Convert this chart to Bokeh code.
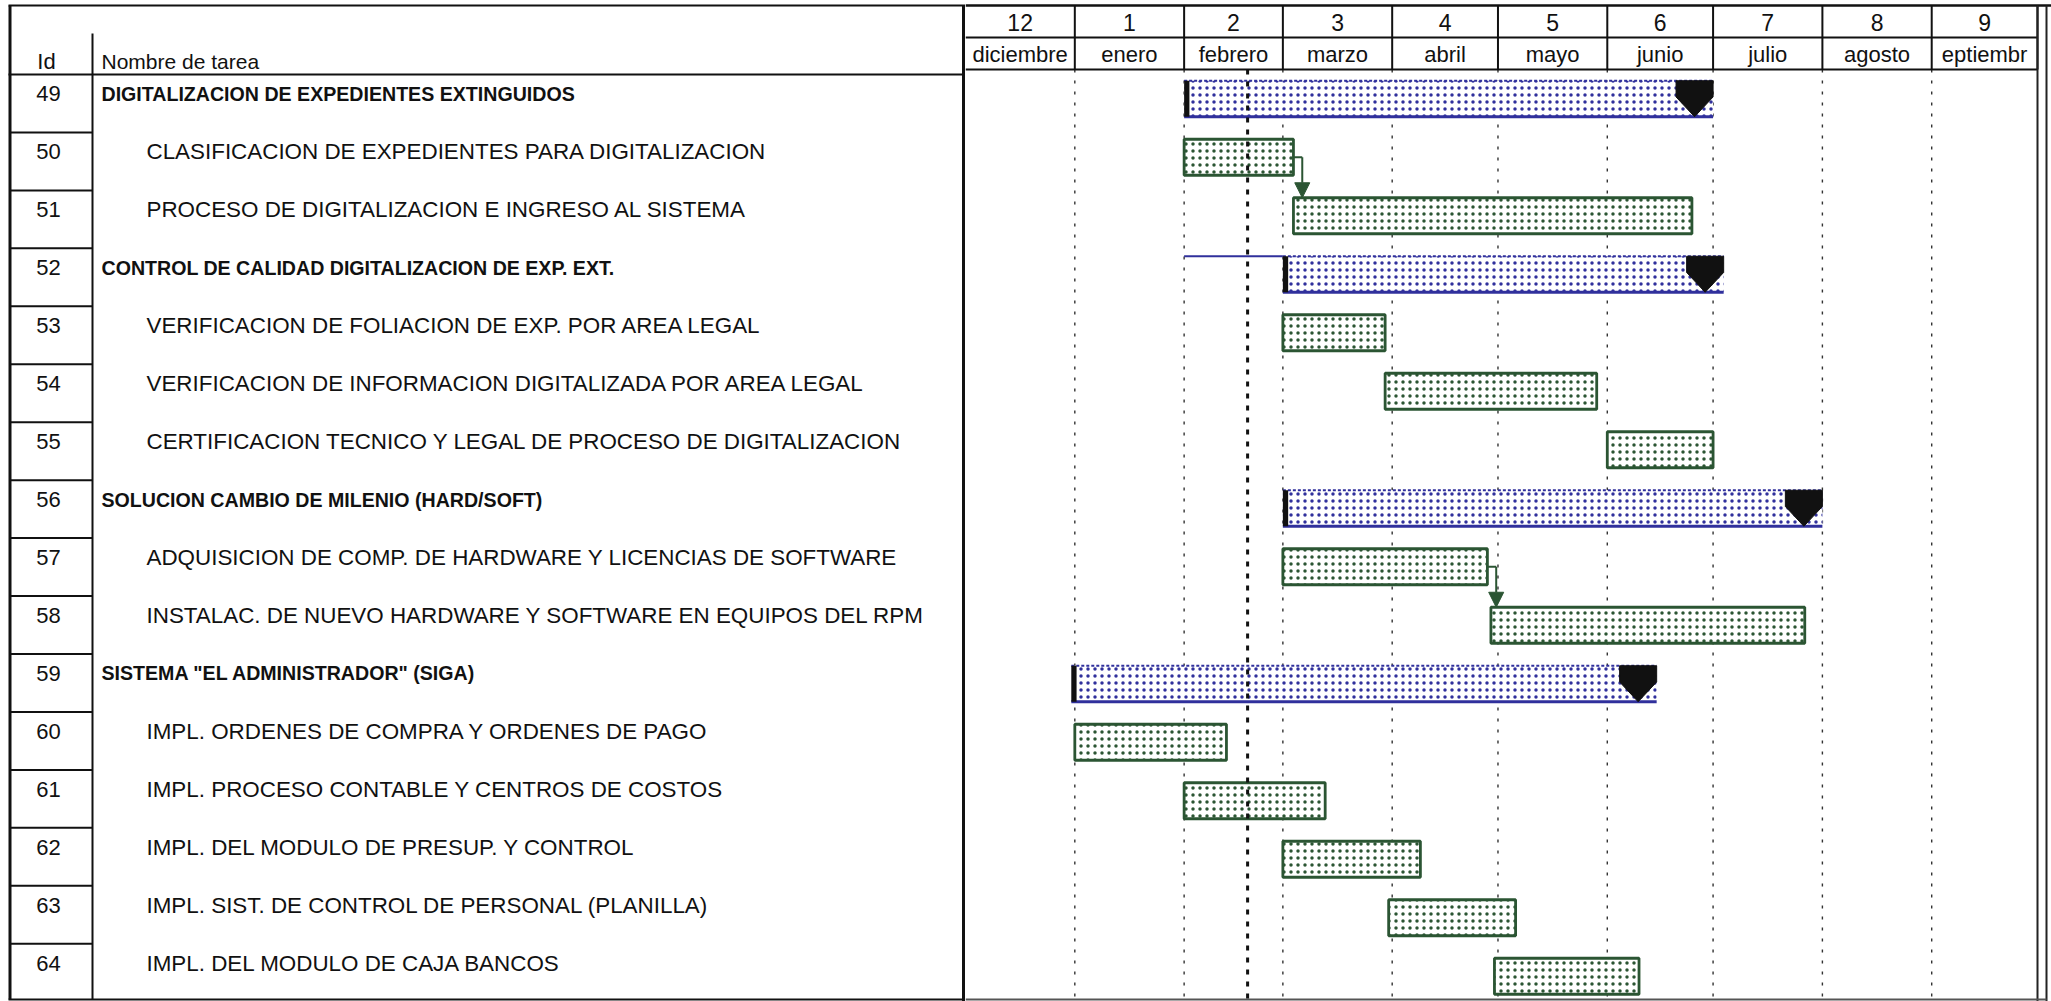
import pandas as pd
from bokeh.plotting import figure
from bokeh.layouts import row
from bokeh.models import Range1d, Arrow, NormalHead
from bokeh.core.properties import value
from bokeh.embed import file_html
from bokeh.resources import INLINE

# ---------------- data ----------------
ids = [49, 50, 51, 52, 53, 54, 55, 56, 57, 58, 59, 60, 61, 62, 63, 64]
names = [
    "DIGITALIZACION DE EXPEDIENTES EXTINGUIDOS",
    "CLASIFICACION DE EXPEDIENTES PARA DIGITALIZACION",
    "PROCESO DE DIGITALIZACION E INGRESO AL SISTEMA",
    "CONTROL DE CALIDAD DIGITALIZACION DE EXP. EXT.",
    "VERIFICACION DE FOLIACION DE EXP. POR AREA LEGAL",
    "VERIFICACION DE INFORMACION DIGITALIZADA POR AREA LEGAL",
    "CERTIFICACION TECNICO Y LEGAL DE PROCESO DE DIGITALIZACION",
    "SOLUCION CAMBIO DE MILENIO (HARD/SOFT)",
    "ADQUISICION DE COMP. DE HARDWARE Y LICENCIAS DE SOFTWARE",
    "INSTALAC. DE NUEVO HARDWARE Y SOFTWARE EN EQUIPOS DEL RPM",
    'SISTEMA "EL ADMINISTRADOR" (SIGA)',
    "IMPL. ORDENES DE COMPRA Y ORDENES DE PAGO",
    "IMPL. PROCESO CONTABLE Y CENTROS DE COSTOS",
    "IMPL. DEL MODULO DE PRESUP. Y CONTROL",
    "IMPL. SIST. DE CONTROL DE PERSONAL (PLANILLA)",
    "IMPL. DEL MODULO DE CAJA BANCOS",
]
is_summary = [True, False, False, True, False, False, False, True,
              False, False, True, False, False, False, False, False]
starts = ["1999-02-01", "1999-02-01", "1999-03-04", "1999-03-01", "1999-03-01",
          "1999-03-30", "1999-06-01", "1999-03-01", "1999-03-01", "1999-04-29",
          "1998-12-31", "1999-01-01", "1999-02-01", "1999-03-01", "1999-03-31",
          "1999-04-30"]
finishes = ["1999-07-01", "1999-03-04", "1999-06-25", "1999-07-04", "1999-03-30",
            "1999-05-29", "1999-07-01", "1999-08-01", "1999-04-28", "1999-07-27",
            "1999-06-15", "1999-02-13", "1999-03-13", "1999-04-09", "1999-05-06",
            "1999-06-10"]
links = [(50, 51), (57, 58)]
slack_ids = [52]
slack_starts = ["1999-02-01"]
status_date = "1999-02-19"
month_numbers = ["12", "1", "2", "3", "4", "5", "6", "7", "8", "9"]
month_names = ["diciembre", "enero", "febrero", "marzo", "abril", "mayo",
               "junio", "julio", "agosto", "eptiembr"]
month_starts = ["1998-12-01", "1999-01-01", "1999-02-01", "1999-03-01",
                "1999-04-01", "1999-05-01", "1999-06-01", "1999-07-01",
                "1999-08-01", "1999-09-01"]
timeline_end = "1999-10-01"

# ---------------- helpers ----------------
origin = pd.Timestamp(month_starts[0])


def day(s):
    return (pd.Timestamp(s) - origin).days


start_d = [day(s) for s in starts]
fin_d = [day(s) for s in finishes]
rows_i = list(range(len(ids)))
tl_days = day(timeline_end)
mb = [day(m) for m in month_starts] + [tl_days]

FONT = "Liberation Sans"
BLACK = "#111111"
GREEN = "#2b5533"
BLUE = "#30309c"
H = 1001
TOP_PAGE, BOT_PAGE = 0, 1001

# ---------------- gantt figure ----------------
G_ROW0, G_PITCH = 98.25, 58.5


def gy(page):
    return (page - G_ROW0) / G_PITCH


G_LEFT, G_RIGHT = 965, 2051
px_per_day = (2037 - G_LEFT) / tl_days
xmax = (G_RIGHT - G_LEFT) / px_per_day
x_dbl = (2046 - G_LEFT) / px_per_day

g = figure(width=G_RIGHT - G_LEFT, height=H,
           x_range=Range1d(0, xmax), y_range=Range1d(gy(BOT_PAGE), gy(TOP_PAGE)),
           output_backend="svg", toolbar_location=None, min_border=0,
           x_axis_location=None, y_axis_location=None)
g.grid.visible = False
g.outline_line_color = None
g.background_fill_color = "white"
g.border_fill_color = "white"

hdr_top, hdr_mid, hdr_bot, bottom = gy(5), gy(37), gy(69), gy(999)

# month gridlines (dashed) below header
grid_x = mb[1:-1]
g.segment(x0=grid_x, y0=[hdr_bot] * len(grid_x), x1=grid_x, y1=[bottom] * len(grid_x),
          line_color="#333333", line_width=1.4, line_dash="3 8")

# header
g.segment(x0=[0, 0], y0=[hdr_mid, hdr_bot], x1=[tl_days, tl_days],
          y1=[hdr_mid, hdr_bot], line_color=BLACK, line_width=2)
g.segment(x0=[0], y0=[hdr_top], x1=[xmax], y1=[hdr_top],
          line_color=BLACK, line_width=2.5)
g.segment(x0=mb[1:], y0=[hdr_top] * (len(mb) - 1), x1=mb[1:], y1=[hdr_bot] * (len(mb) - 1),
          line_color=BLACK, line_width=2)
mid_x = [(mb[k] + mb[k + 1]) / 2 for k in range(len(month_names))]
g.text(x=mid_x, y=[gy(22)] * len(mid_x), text=month_numbers, text_font=value(FONT),
       text_font_size="23px", text_align="center", text_baseline="middle", text_color=BLACK)
g.text(x=mid_x, y=[gy(54)] * len(mid_x), text=month_names, text_font=value(FONT),
       text_font_size="22px", text_align="center", text_baseline="middle", text_color=BLACK)

# right double border and bottom line
g.segment(x0=[tl_days, x_dbl], y0=[hdr_top, hdr_top], x1=[tl_days, x_dbl],
          y1=[gy(BOT_PAGE), gy(BOT_PAGE)], line_color="#222222", line_width=2)
g.segment(x0=[0], y0=[bottom], x1=[x_dbl], y1=[bottom], line_color="#555555", line_width=2)

HALF = 18 / G_PITCH

# task bars
t_idx = [i for i in rows_i if not is_summary[i]]
g.quad(left=[start_d[i] for i in t_idx], right=[fin_d[i] for i in t_idx],
       top=[i - HALF for i in t_idx], bottom=[i + HALF for i in t_idx],
       fill_color="white", hatch_pattern="dot", hatch_color=GREEN, hatch_scale=7,
       hatch_weight=1.7, line_color=GREEN, line_width=2.8)

# summary bars
s_idx = [i for i in rows_i if is_summary[i]]
g.quad(left=[start_d[i] for i in s_idx], right=[fin_d[i] for i in s_idx],
       top=[i - HALF for i in s_idx], bottom=[i + HALF for i in s_idx],
       fill_color="white", hatch_pattern="dot", hatch_color=BLUE, hatch_scale=7,
       hatch_weight=1.7, line_color=None)
g.segment(x0=[start_d[i] for i in s_idx], y0=[i + HALF for i in s_idx],
          x1=[fin_d[i] for i in s_idx], y1=[i + HALF for i in s_idx],
          line_color=BLUE, line_width=2.8)
g.segment(x0=[start_d[i] for i in s_idx], y0=[i - HALF for i in s_idx],
          x1=[fin_d[i] for i in s_idx], y1=[i - HALF for i in s_idx],
          line_color=BLUE, line_width=2.2, line_dash="3 2")
# slack line
sl_i = [ids.index(k) for k in slack_ids]
g.segment(x0=[day(s) for s in slack_starts], y0=[i - HALF for i in sl_i],
          x1=[start_d[i] for i in sl_i], y1=[i - HALF for i in sl_i],
          line_color=BLUE, line_width=2)
# summary start bars
SB = 1.5
g.quad(left=[start_d[i] for i in s_idx], right=[start_d[i] + SB for i in s_idx],
       top=[i - HALF for i in s_idx], bottom=[i + HALF for i in s_idx],
       fill_color=BLACK, line_color=None)
# summary end markers
MW = 10.5
xs, ys = [], []
for i in s_idx:
    e = fin_d[i]
    tp, bt = i - HALF, i + HALF
    knee = tp + 0.45 * (bt - tp)
    xs.append([e - MW, e, e, e - MW / 2, e - MW])
    ys.append([tp, tp, knee, bt, knee])
g.patches(xs=xs, ys=ys, fill_color=BLACK, line_color=BLACK, line_width=1)

# dependency links
for a, b in links:
    ia, ib = ids.index(a), ids.index(b)
    xa = fin_d[ia] + 2.5
    g.segment(x0=[fin_d[ia]], y0=[ia], x1=[xa], y1=[ia], line_color=GREEN, line_width=2)
    g.add_layout(Arrow(end=NormalHead(size=15, fill_color=GREEN, line_color=GREEN),
                       x_start=xa, y_start=ia, x_end=xa, y_end=ib - HALF,
                       line_color=GREEN, line_width=2))

# status date line
sd = day(status_date)
g.segment(x0=[sd], y0=[hdr_bot], x1=[sd], y1=[bottom], line_color=BLACK,
          line_width=3, line_dash="5 7")

# ---------------- table figure ----------------
T_ROW0, T_PITCH = 74, 57.95


def ty(page):
    return (page - T_ROW0) / T_PITCH


t = figure(width=G_LEFT, height=H, x_range=Range1d(0, G_LEFT),
           y_range=Range1d(ty(BOT_PAGE), ty(TOP_PAGE)),
           output_backend="svg", toolbar_location=None, min_border=0,
           x_axis_location=None, y_axis_location=None)
t.grid.visible = False
t.outline_line_color = None
t.background_fill_color = "white"
t.border_fill_color = "white"

n = len(ids)
t_top, t_bot = ty(5), ty(999)
# structure lines
t.segment(x0=[8, 8, 8], y0=[t_top, 0, t_bot], x1=[G_LEFT, G_LEFT, G_LEFT],
          y1=[t_top, 0, t_bot], line_color=BLACK, line_width=2.2)
t.segment(x0=[9.5, G_LEFT - 2], y0=[t_top, t_top], x1=[9.5, G_LEFT - 2],
          y1=[t_bot, ty(BOT_PAGE)], line_color=BLACK, line_width=3)
t.segment(x0=[92], y0=[ty(33)], x1=[92], y1=[t_bot], line_color=BLACK, line_width=2)
t.segment(x0=[9.5] * (n - 1), y0=list(range(1, n)), x1=[92] * (n - 1),
          y1=list(range(1, n)), line_color=BLACK, line_width=2)

t.text(x=[46], y=[ty(61)], text=["Id"], text_font=value(FONT), text_font_size="22px",
       text_align="center", text_baseline="middle", text_color=BLACK)
t.text(x=[101], y=[ty(61)], text=["Nombre de tarea"], text_font=value(FONT),
       text_font_size="21px", text_align="left", text_baseline="middle", text_color=BLACK)

TY_OFF = 0.335
t.text(x=[48] * n, y=[i + TY_OFF for i in rows_i], text=[str(k) for k in ids],
       text_font=value(FONT), text_font_size="22px", text_align="center",
       text_baseline="middle", text_color=BLACK)
t.text(x=[101] * len(s_idx), y=[i + TY_OFF for i in s_idx], text=[names[i] for i in s_idx],
       text_font=value(FONT), text_font_size="19.6px", text_font_style="bold",
       text_align="left", text_baseline="middle", text_color=BLACK)
t.text(x=[146] * len(t_idx), y=[i + TY_OFF for i in t_idx], text=[names[i] for i in t_idx],
       text_font=value(FONT), text_font_size="22.4px", text_align="left",
       text_baseline="middle", text_color=BLACK)

layout = row(t, g, spacing=0)
open("out.html", "w").write(file_html(layout, INLINE))
